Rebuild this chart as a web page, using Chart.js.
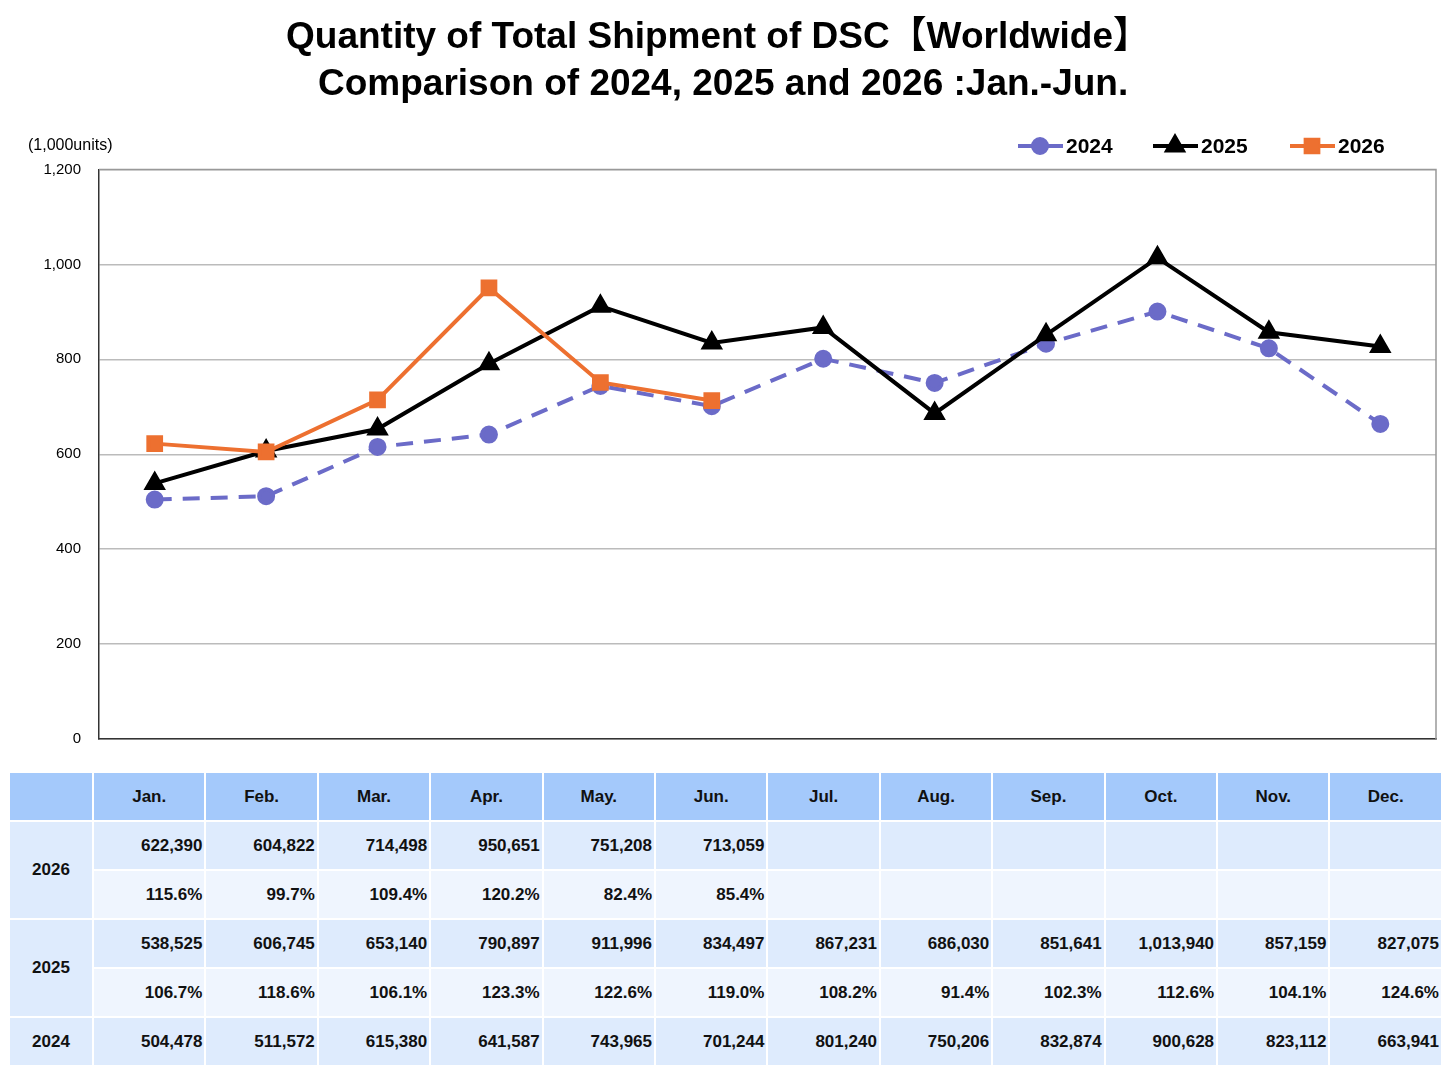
<!DOCTYPE html>
<html>
<head>
<meta charset="utf-8">
<script src="https://cdn.jsdelivr.net/npm/chart.js@4"></script>
<style>
  body { margin: 0; background: #fff; }
  #wrap { position: relative; width: 1450px; height: 1076px; }
  #chartBox { position: absolute; left: 0; top: 0; width: 1450px; height: 766px; }
  #tbl {
    position: absolute; left: 8px; top: 771px; width: 1435px;
    border-collapse: separate; border-spacing: 2px; table-layout: fixed;
    font-family: 'Liberation Sans', Arial, sans-serif; font-weight: bold; font-size: 17px; color: #111;
  }
  #tbl td { padding: 0 2px 0 0; height: 47px; box-sizing: border-box; text-align: right; }
  #tbl tr.head td { background: #a4c9fb; text-align: center; padding: 0; }
  #tbl td.lbl { background: #deebfd; text-align: center; padding: 0; }
  #tbl tr.val td { background: #deebfd; }
  #tbl tr.pct td { background: #eff5fe; }
</style>
</head>
<body>
<div id="wrap">
  <div id="chartBox"><canvas id="c"></canvas></div>
  <table id="tbl"></table>
</div>
<script>
const months = ['Jan.', 'Feb.', 'Mar.', 'Apr.', 'May.', 'Jun.', 'Jul.', 'Aug.', 'Sep.', 'Oct.', 'Nov.', 'Dec.'];
const ship2026 = [622390, 604822, 714498, 950651, 751208, 713059];
const ship2025 = [538525, 606745, 653140, 790897, 911996, 834497, 867231, 686030, 851641, 1013940, 857159, 827075];
const ship2024 = [504478, 511572, 615380, 641587, 743965, 701244, 801240, 750206, 832874, 900628, 823112, 663941];
const pct2026 = ['115.6%', '99.7%', '109.4%', '120.2%', '82.4%', '85.4%'];
const pct2025 = ['106.7%', '118.6%', '106.1%', '123.3%', '122.6%', '119.0%', '108.2%', '91.4%', '102.3%', '112.6%', '104.1%', '124.6%'];
const yTicks = [0, 200, 400, 600, 800, 1000, 1200];

const fmt = v => v.toLocaleString('en-US');
const inK = arr => arr.map(v => v / 1000);

// table under the chart
const tbl = document.getElementById('tbl');
let html = '<colgroup><col style="width:82px">' + months.map(() => '<col>').join('') + '</colgroup>';
html += '<tr class="head"><td></td>' + months.map(m => '<td>' + m + '</td>').join('') + '</tr>';
const cells = arr => months.map((m, i) => '<td>' + (arr[i] !== undefined ? arr[i] : '') + '</td>').join('');
html += '<tr class="val"><td class="lbl" rowspan="2">2026</td>' + cells(ship2026.map(fmt)) + '</tr>';
html += '<tr class="pct">' + cells(pct2026) + '</tr>';
html += '<tr class="val"><td class="lbl" rowspan="2">2025</td>' + cells(ship2025.map(fmt)) + '</tr>';
html += '<tr class="pct">' + cells(pct2025) + '</tr>';
html += '<tr class="val"><td class="lbl">2024</td>' + cells(ship2024.map(fmt)) + '</tr>';
tbl.innerHTML = html;

const purple = '#6b6bc8';
const orange = '#ed7030';

// legend, unit label and plot frame
const extras = {
  id: 'extras',
  afterDraw(chart) {
    const ctx = chart.ctx;
    const a = chart.chartArea;
    ctx.save();
    ctx.strokeStyle = '#999';
    ctx.lineWidth = 1.5;
    ctx.beginPath();
    ctx.moveTo(a.left, a.top);
    ctx.lineTo(a.right, a.top);
    ctx.lineTo(a.right, a.bottom);
    ctx.stroke();

    ctx.fillStyle = '#000';
    ctx.font = '16px "Liberation Sans", Arial, sans-serif';
    ctx.textBaseline = 'middle';
    ctx.textAlign = 'left';
    ctx.fillText('(1,000units)', 28, 146);

    const items = [
      { x: 1018, ds: chart.data.datasets[2] },
      { x: 1153, ds: chart.data.datasets[1] },
      { x: 1290, ds: chart.data.datasets[0] }
    ];
    const y = 146;
    items.forEach(it => {
      const ds = it.ds;
      ctx.strokeStyle = ds.borderColor;
      ctx.lineWidth = 4;
      ctx.setLineDash(ds.borderDash || []);
      ctx.beginPath();
      ctx.moveTo(it.x, y);
      ctx.lineTo(it.x + 45, y);
      ctx.stroke();
      ctx.setLineDash([]);
      Chart.helpers.drawPoint(ctx, {
        pointStyle: ds.pointStyle, radius: ds.pointRadius, rotation: 0, borderWidth: 1
      }, it.x + 22, y);
      ctx.fillStyle = ds.pointBackgroundColor;
      ctx.strokeStyle = ds.pointBorderColor;
      ctx.fill();
      ctx.fillStyle = '#000';
      ctx.font = 'bold 21px "Liberation Sans", Arial, sans-serif';
      ctx.fillText(ds.label, it.x + 48, y + 1);
    });
    ctx.restore();
  }
};

new Chart(document.getElementById('c'), {
  type: 'line',
  data: {
    labels: months,
    datasets: [
      {
        label: '2026', data: inK(ship2026), order: 1,
        borderColor: orange, borderWidth: 4,
        pointStyle: 'rect', pointRadius: 9, pointBackgroundColor: orange, pointBorderColor: orange
      },
      {
        label: '2025', data: inK(ship2025), order: 2,
        borderColor: '#000', borderWidth: 4,
        pointStyle: 'triangle', pointRadius: 9, pointBackgroundColor: '#000', pointBorderColor: '#000'
      },
      {
        label: '2024', data: inK(ship2024), order: 3,
        borderColor: purple, borderWidth: 4, borderDash: [17, 11],
        pointStyle: 'circle', pointRadius: 7, pointBackgroundColor: purple, pointBorderColor: purple
      }
    ]
  },
  options: {
    responsive: true,
    maintainAspectRatio: false,
    animation: false,
    layout: { padding: { left: 0, right: 14, top: 0, bottom: 0 } },
    plugins: {
      legend: { display: false },
      tooltip: { enabled: false },
      title: {
        display: true,
        text: ['Quantity of Total Shipment of DSC【Worldwide】', ' Comparison of 2024, 2025 and 2026 :Jan.-Jun.'],
        color: '#000',
        font: { family: '"Liberation Sans", "Noto Sans CJK JP", Arial, sans-serif', size: 37, weight: 'bold', lineHeight: 1.25 },
        padding: { top: 15, bottom: 62 }
      }
    },
    scales: {
      x: {
        offset: true,
        ticks: { display: false },
        grid: { display: false },
        border: { display: true, color: '#333', width: 1.5 },
        afterFit: s => { s.height = 0; }
      },
      y: {
        min: 0, max: 1200,
        afterBuildTicks: s => { s.ticks = yTicks.map(v => ({ value: v })); },
        ticks: {
          color: '#000', padding: 18,
          font: { family: '"Liberation Sans", Arial, sans-serif', size: 15 },
          callback: v => fmt(v)
        },
        grid: { color: '#bbb', lineWidth: 1.5, drawTicks: false },
        border: { display: true, color: '#333', width: 1.5 },
        afterFit: s => { s.width = 99; }
      }
    }
  },
  plugins: [extras]
});
</script>
</body>
</html>
